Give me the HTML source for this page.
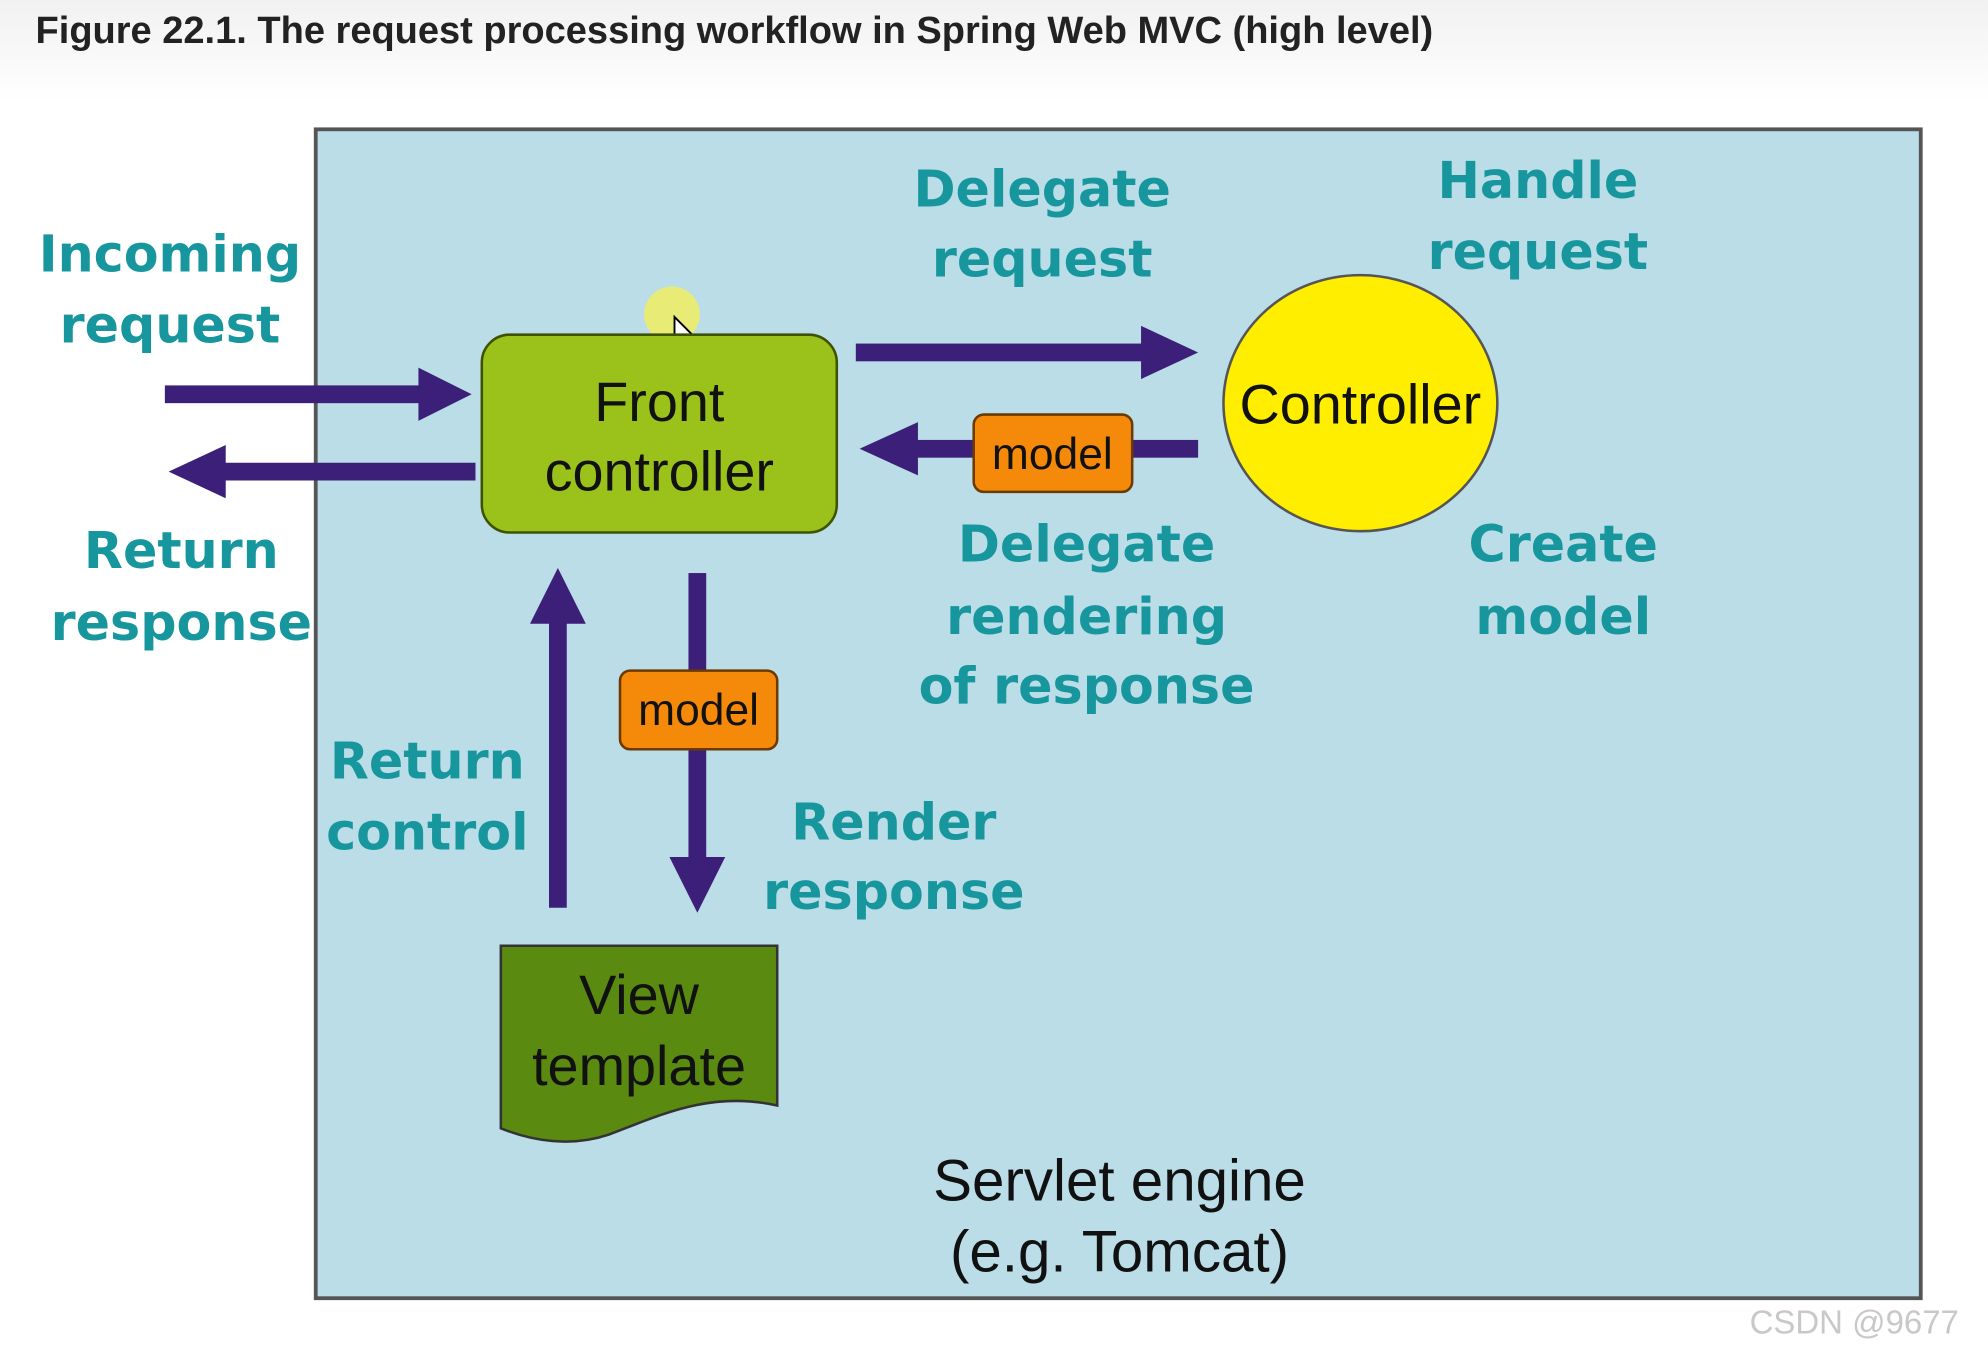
<!DOCTYPE html>
<html><head><meta charset="utf-8"><style>
html,body{margin:0;padding:0;background:#fff;}
svg{display:block;}
.t{font-family:"DejaVu Sans","Liberation Sans",sans-serif;font-weight:bold;fill:#17979d;font-size:40px;text-anchor:middle;}
.n{font-family:"Liberation Sans",sans-serif;fill:#111;font-size:44px;text-anchor:middle;}
</style></head><body>
<svg width="1988" height="1354" viewBox="0 0 1568 1068" xmlns="http://www.w3.org/2000/svg">
<defs><linearGradient id="g" x1="0" y1="0" x2="0" y2="1"><stop offset="0" stop-color="#f1f1f1"/><stop offset="1" stop-color="#ffffff"/></linearGradient></defs>
<rect x="0" y="0" width="1568" height="80" fill="url(#g)"/>
<text x="28" y="34" font-family="Liberation Sans,sans-serif" font-weight="bold" font-size="30" fill="#222">Figure 22.1. The request processing workflow in Spring Web MVC (high level)</text>
<rect x="249" y="102" width="1266" height="922" fill="#badde7" stroke="#555" stroke-width="3"/>
<g fill="#3b1f78">
<rect x="130" y="304" width="205" height="14"/><polygon points="330,290 372,311 330,332"/>
<rect x="175" y="365" width="200" height="14"/><polygon points="178,351 133,372 178,393"/>
<rect x="675" y="271" width="230" height="14"/><polygon points="900,257 945,278 900,299"/>
<rect x="720" y="347" width="225" height="14"/><polygon points="724,333 678,354 724,375"/>
<rect x="543" y="452" width="14" height="230"/><polygon points="528,676 550,720 572,676"/>
<rect x="433" y="488" width="14" height="228"/><polygon points="418,492 440,448 462,492"/>
</g>
<circle cx="530" cy="248" r="22" fill="#f4f05a" opacity="0.8"/>
<polygon points="532,250 532,276 538,270 543,281 547,279 542,268 550,268" fill="#fff" stroke="#000" stroke-width="1.5"/>
<rect x="380" y="264" width="280" height="156" rx="22" fill="#9bc21a" stroke="#3f5200" stroke-width="2"/>
<text class="n" x="520" y="332">Front</text>
<text class="n" x="520" y="387">controller</text>
<ellipse cx="1073" cy="318" rx="108" ry="101" fill="#ffee00" stroke="#555" stroke-width="2"/>
<text class="n" x="1073" y="334">Controller</text>
<rect x="768" y="327" width="125" height="61" rx="8" fill="#f58a0a" stroke="#6a3a00" stroke-width="2"/>
<text class="n" x="830" y="370" style="font-size:35px">model</text>
<rect x="489" y="529" width="124" height="62" rx="8" fill="#f58a0a" stroke="#6a3a00" stroke-width="2"/>
<text class="n" x="551" y="572" style="font-size:35px">model</text>
<path d="M395,746 H613 V872 C560,860 520,880 480,895 C450,905 420,900 395,890 Z" fill="#5b8a10" stroke="#333" stroke-width="2"/>
<text class="n" x="504" y="800">View</text>
<text class="n" x="504" y="856">template</text>
<text class="t" x="134" y="214">Incoming</text><text class="t" x="134" y="270">request</text>
<text class="t" x="143" y="448">Return</text><text class="t" x="143" y="505">response</text>
<text class="t" x="822" y="163">Delegate</text><text class="t" x="822" y="218">request</text>
<text class="t" x="1213" y="156">Handle</text><text class="t" x="1213" y="212">request</text>
<text class="t" x="857" y="443">Delegate</text><text class="t" x="857" y="500">rendering</text><text class="t" x="857" y="555">of response</text>
<text class="t" x="1233" y="443">Create</text><text class="t" x="1233" y="500">model</text>
<text class="t" x="337" y="614">Return</text><text class="t" x="337" y="670">control</text>
<text class="t" x="705" y="662">Render</text><text class="t" x="705" y="717">response</text>
<text class="n" x="883" y="947" style="font-size:46px">Servlet engine</text>
<text class="n" x="883" y="1003" style="font-size:46px">(e.g. Tomcat)</text>
<text x="1380" y="1052" font-family="Liberation Sans,sans-serif" font-size="26" fill="#c8c8c8">CSDN @9677</text>
</svg>
</body></html>
